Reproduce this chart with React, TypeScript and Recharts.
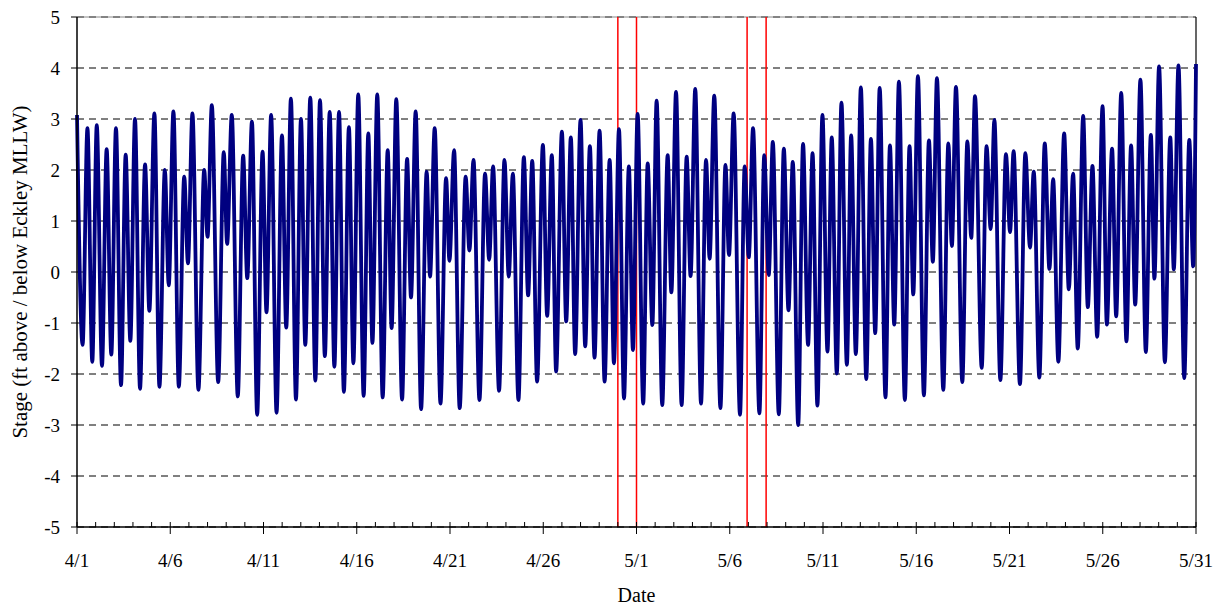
import { CartesianGrid, Line, LineChart, ReferenceLine, XAxis, YAxis } from "recharts";

const FONT = "'Liberation Serif', 'Times New Roman', serif";

// Turning points of the tide: days since 4/1 00:00 and stage (ft) at each high/low
const turnDay = [
  0.0, 0.3, 0.56, 0.82, 1.06, 1.34, 1.59, 1.84, 2.09, 2.36, 2.61, 2.86, 3.11, 3.38, 3.65, 3.88, 4.15, 4.42, 4.71, 4.92, 5.17, 5.46, 5.75, 5.95,
  6.19, 6.51, 6.82, 7.0, 7.23, 7.57, 7.87, 8.05, 8.3, 8.62, 8.91, 9.13, 9.38, 9.66, 9.95, 10.16, 10.41, 10.7, 10.99, 11.22, 11.47, 11.74, 12.01,
  12.24, 12.51, 12.78, 13.03, 13.29, 13.55, 13.8, 14.05, 14.31, 14.58, 14.82, 15.08, 15.37, 15.62, 15.84, 16.1, 16.39, 16.66, 16.87, 17.12, 17.43, 17.7, 17.91, 18.16,
  18.45, 18.75, 18.93, 19.18, 19.49, 19.79, 19.97, 20.22, 20.52, 20.84, 21.04, 21.26, 21.58, 21.88, 22.1, 22.31, 22.63, 22.92, 23.15, 23.37, 23.67, 23.96, 24.19, 24.41,
  24.67, 24.98, 25.21, 25.46, 25.69, 26.0, 26.23, 26.48, 26.71, 27.0, 27.25, 27.5, 27.75, 28.02, 28.29, 28.56, 28.79, 29.06, 29.33, 29.59, 29.81, 30.06, 30.36, 30.6,
  30.85, 31.08, 31.38, 31.67, 31.87, 32.12, 32.42, 32.69, 32.9, 33.15, 33.46, 33.73, 33.92, 34.17, 34.5, 34.77, 34.96, 35.21, 35.55, 35.8, 36.02, 36.25, 36.59, 36.85,
  37.09, 37.31, 37.63, 37.9, 38.15, 38.38, 38.67, 38.93, 39.2, 39.44, 39.7, 39.97, 40.24, 40.47, 40.74, 40.99, 41.28, 41.51, 41.76, 42.03, 42.32, 42.57, 42.8, 43.04,
  43.35, 43.59, 43.82, 44.07, 44.39, 44.64, 44.84, 45.09, 45.41, 45.68, 45.89, 46.11, 46.45, 46.72, 46.91, 47.13, 47.47, 47.74, 47.95, 48.15, 48.51, 48.77, 48.99, 49.19,
  49.51, 49.81, 50.03, 50.22, 50.56, 50.85, 51.1, 51.3, 51.6, 51.89, 52.14, 52.34, 52.62, 52.93, 53.18, 53.41, 53.66, 53.95, 54.2, 54.45, 54.7, 54.99,
  55.22, 55.5, 55.72, 55.99, 56.27, 56.52, 56.74, 57.02, 57.31, 57.58, 57.77, 58.02, 58.33, 58.62, 58.81, 59.06, 59.37, 59.64, 59.85, 60.0,
];

const turnStage = [
  3.08, -1.43, 2.82, -1.76, 2.88, -1.84, 2.41, -1.62, 2.82, -2.22, 2.3, -1.35, 3.0, -2.29, 2.11, -0.76, 3.11, -2.25, 2.0, -0.26, 3.15, -2.25, 1.87, 0.17,
  3.11, -2.31, 2.0, 0.69, 3.27, -2.16, 2.35, 0.55, 3.08, -2.44, 2.28, -0.12, 2.95, -2.8, 2.36, -0.79, 3.08, -2.76, 2.68, -1.09, 3.4, -2.5, 3.0,
  -1.43, 3.42, -2.13, 3.37, -1.65, 3.14, -1.86, 3.14, -2.35, 2.84, -1.79, 3.48, -2.43, 2.72, -1.39, 3.48, -2.46, 2.39, -1.1, 3.39, -2.5, 2.22, -0.5, 3.15,
  -2.69, 1.97, -0.09, 2.82, -2.58, 1.84, 0.22, 2.39, -2.67, 1.87, 0.42, 2.2, -2.51, 1.93, 0.24, 2.07, -2.33, 2.2, -0.09, 1.93, -2.51, 2.25, -0.46, 2.18,
  -2.15, 2.49, -0.86, 2.29, -1.95, 2.75, -0.97, 2.64, -1.61, 2.98, -1.46, 2.47, -1.68, 2.77, -2.15, 2.2, -1.79, 2.8, -2.48, 2.07, -1.53, 3.1, -2.58, 2.13,
  -1.04, 3.36, -2.61, 2.29, -0.4, 3.53, -2.61, 2.26, -0.08, 3.59, -2.58, 2.2, 0.26, 3.46, -2.67, 2.1, 0.33, 3.11, -2.8, 2.07, 0.29, 2.82, -2.77, 2.29,
  -0.06, 2.55, -2.79, 2.42, -0.75, 2.16, -3.0, 2.51, -1.43, 2.33, -2.62, 3.08, -1.56, 2.64, -1.99, 3.32, -1.82, 2.68, -1.61, 3.62, -2.1, 2.61, -1.2, 3.61,
  -2.46, 2.48, -1.03, 3.73, -2.51, 2.47, -0.44, 3.84, -2.42, 2.58, 0.2, 3.8, -2.31, 2.52, 0.51, 3.63, -2.16, 2.56, 0.67, 3.45, -1.88, 2.47, 0.84, 2.98,
  -2.12, 2.31, 0.78, 2.37, -2.2, 2.33, 0.48, 1.97, -2.07, 2.52, 0.06, 1.82, -1.76, 2.72, -0.34, 1.93, -1.5, 3.06, -0.69, 2.08, -1.27, 3.25,
  -1.03, 2.42, -0.87, 3.51, -1.36, 2.48, -0.64, 3.77, -1.57, 2.69, -0.13, 4.03, -1.77, 2.64, 0.05, 4.05, -2.08, 2.59, 0.11, 4.08,
];

// labelled every 5 days starting 4/1
const dateLabels = ["4/1", "4/6", "4/11", "4/16", "4/21", "4/26", "5/1", "5/6", "5/11", "5/16", "5/21", "5/26", "5/31"];
const stageTicks = [-5, -4, -3, -2, -1, 0, 1, 2, 3, 4, 5];
// red marker lines (days since 4/1)
const markerDays = [29, 30, 35.93, 36.95];

const dayTicks = Array.from({ length: 61 }, (_, i) => i);
const data = turnDay.map((d, i) => ({ day: d, stage: turnStage[i] }));

function DayTick({ x, y, payload }: any) {
  const day = payload.value;
  const major = day % 5 === 0;
  return (
    <g>
      <line x1={x} x2={x} y1={y - 5} y2={major ? y + 7 : y} stroke="#000" strokeWidth={1} />
      {major && (
        <text x={x} y={y + 40} textAnchor="middle" fontSize={19} fontFamily={FONT} fill="#000">
          {dateLabels[day / 5]}
        </text>
      )}
    </g>
  );
}

export default function App() {
  return (
    <div style={{ position: "absolute", left: 0, top: 0, width: 1224, height: 609, background: "#fff" }}>
      <LineChart width={1224} height={609} data={data} margin={{ top: 17, right: 28, bottom: 0, left: 0 }}>
        <CartesianGrid vertical={false} stroke="#000" strokeDasharray="7 5" />
        <ReferenceLine y={5} stroke="#888" strokeWidth={1} />
        <ReferenceLine x={60} stroke="#000" strokeWidth={1.2} />
        <XAxis
          dataKey="day"
          type="number"
          domain={[0, 60]}
          ticks={dayTicks}
          interval={0}
          height={82}
          tickLine={false}
          tickSize={0}
          tickMargin={0}
          axisLine={{ stroke: "#000", strokeWidth: 1.5 }}
          tick={<DayTick />}
          label={{ value: "Date", position: "insideBottom", offset: 7, fill: "#000", fontSize: 20, fontFamily: FONT }}
        />
        <YAxis
          type="number"
          domain={[-5, 5]}
          ticks={stageTicks}
          interval={0}
          width={77}
          tickSize={6}
          tickMargin={11}
          axisLine={{ stroke: "#000", strokeWidth: 1.5 }}
          tickLine={{ stroke: "#000" }}
          tick={{ fill: "#000", fontSize: 19, fontFamily: FONT }}
          label={{
            value: "Stage (ft above / below Eckley MLLW)",
            angle: -90,
            position: "center",
            dx: -19,
            fill: "#000",
            fontSize: 21,
            fontFamily: FONT,
          }}
        />
        {markerDays.map((d) => (
          <ReferenceLine key={d} x={d} stroke="#ff0000" strokeWidth={1.5} />
        ))}
        <Line
          type="monotone"
          dataKey="stage"
          stroke="#000080"
          strokeWidth={3.8}
          dot={false}
          isAnimationActive={false}
        />
      </LineChart>
    </div>
  );
}
